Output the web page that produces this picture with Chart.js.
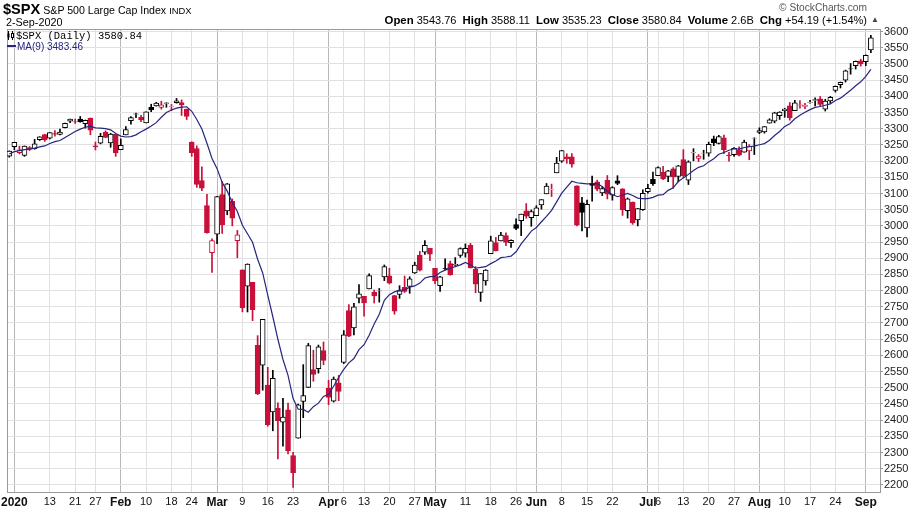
<!DOCTYPE html>
<html>
<head>
<meta charset="utf-8">
<script src="https://cdn.jsdelivr.net/npm/chart.js@4.4.1/dist/chart.umd.min.js"></script>
<style>
  body { margin: 0; background: #fff; font-family: Arial, "Liberation Sans", sans-serif; }
  #wrap { position: relative; width: 909px; height: 508px; overflow: hidden; }
  #c { position: absolute; left: 0; top: 0; }
  .txt { position: absolute; white-space: nowrap; color: #000; line-height: 1; }
  #sym { left: 3px; top: 2px; font-size: 10.6px; }
  #sym b { font-size: 14.6px; }
  #sym small { font-size: 9.4px; }
  #dt { left: 6px; top: 17px; font-size: 10.8px; }
  #quote { right: 42px; top: 15px; font-size: 11px; }
  #quote b { font-size: 11.4px; }
  #tri { left: 871px; top: 16px; font-size: 8px; color: #444; }
  #copy { right: 42px; top: 3px; font-size: 10.2px; color: #555; }
  #lg1 { left: 7px; top: 31px; font-family: "Liberation Mono", "DejaVu Sans Mono", monospace; font-size: 10.5px; }
  #lg1 svg { margin-right: 2px; }
  #lg2 { left: 7px; top: 42px; font-size: 10px; color: #26267f; }
  #lg2 i { display: inline-block; width: 9px; height: 2px; background: #26267f; vertical-align: 3px; margin-right: 1px; }
</style>
</head>
<body>
<div id="wrap">
  <canvas id="c" width="909" height="508"></canvas>
  <div class="txt" id="sym"><b>$SPX</b> S&amp;P 500 Large Cap Index <small>INDX</small></div>
  <div class="txt" id="dt">2-Sep-2020</div>
  <div class="txt" id="copy">© StockCharts.com</div>
  <div class="txt" id="quote"><b>Open</b> 3543.76 &nbsp;<b>High</b> 3588.11 &nbsp;<b>Low</b> 3535.23 &nbsp;<b>Close</b> 3580.84 &nbsp;<b>Volume</b> 2.6B &nbsp;<b>Chg</b> +54.19 (+1.54%)</div>
  <div class="txt" id="tri">▲</div>
  <div class="txt" id="lg1"><svg width="7" height="9" style="vertical-align:-1px"><path d="M1.5 0v9M5.5 0v9" stroke="#000" stroke-width="1"/><rect x="0.5" y="2.5" width="2" height="4" fill="#000"/><rect x="4.5" y="2.5" width="2" height="4" fill="#fff" stroke="#000"/></svg>$SPX (Daily) 3580.84</div>
  <div class="txt" id="lg2"><i></i>MA(9) 3483.46</div>
</div>
<script>
// daily OHLC, 31-Dec-2019 .. 2-Sep-2020 (one row of values per month)
const opens = [
  3215.18,
  3244.67, 3226.36, 3217.55, 3241.86, 3238.59, 3266.03, 3281.81, 3271.13, 3285.35, 3282.27, 3302.97, 3323.66, 3321.03, 3330.02, 3315.77, 3333.10, 3247.16, 3255.35, 3289.46, 3256.45, 3282.33,
  3235.66, 3280.61, 3324.91, 3344.92, 3335.54, 3318.28, 3365.87, 3370.50, 3365.90, 3378.08, 3369.04, 3380.39, 3380.45, 3360.50, 3257.61, 3238.94, 3139.90, 3062.54, 2916.90,
  2974.28, 3096.46, 3045.75, 3075.70, 2954.20, 2863.89, 2813.48, 2825.60, 2630.86, 2569.99, 2508.59, 2425.66, 2436.50, 2393.48, 2431.94, 2290.71, 2344.44, 2457.77, 2501.29, 2555.87, 2558.98, 2614.69,
  2498.08, 2458.54, 2514.92, 2578.28, 2738.65, 2685.00, 2776.99, 2782.46, 2805.10, 2795.64, 2799.34, 2842.43, 2845.62, 2784.81, 2787.89, 2810.42, 2812.64, 2854.65, 2909.96, 2918.46, 2930.91,
  2869.09, 2815.01, 2868.88, 2883.14, 2878.26, 2908.83, 2915.46, 2939.50, 2865.86, 2794.54, 2829.95, 2913.86, 2948.59, 2953.63, 2969.95, 2948.05, 3004.08, 3015.65, 3046.61, 3025.17,
  3031.48, 3064.78, 3098.90, 3111.56, 3163.84, 3199.92, 3213.32, 3213.42, 3123.53, 3071.04, 2993.76, 3131.00, 3136.13, 3101.64, 3140.29, 3094.42, 3138.70, 3114.40, 3046.60, 3073.20, 3018.59, 3050.20,
  3105.92, 3143.64, 3155.29, 3166.44, 3153.07, 3176.17, 3152.47, 3205.08, 3141.11, 3225.98, 3208.36, 3224.21, 3224.29, 3268.52, 3254.86, 3271.64, 3218.58, 3219.84, 3234.27, 3227.22, 3231.76, 3270.45,
  3288.26, 3289.92, 3317.37, 3323.17, 3340.05, 3356.04, 3370.34, 3355.46, 3372.95, 3368.66, 3380.86, 3387.04, 3392.51, 3360.48, 3386.01, 3418.09, 3435.95, 3449.97, 3485.14, 3494.69, 3509.73,
  3507.44, 3543.76
];
const highs = [
  3231.72,
  3258.14, 3246.15, 3246.84, 3244.91, 3267.07, 3275.58, 3282.99, 3288.13, 3294.25, 3298.66, 3317.11, 3329.88, 3329.79, 3337.77, 3326.88, 3333.18, 3258.85, 3285.78, 3293.47, 3285.91, 3282.33,
  3268.44, 3306.92, 3337.58, 3347.96, 3341.42, 3352.26, 3375.63, 3381.47, 3385.09, 3380.69, 3375.01, 3393.52, 3389.15, 3360.76, 3259.81, 3246.99, 3182.51, 3097.07, 2959.72,
  3090.96, 3136.72, 3130.97, 3083.04, 2985.93, 2863.89, 2882.59, 2825.60, 2660.95, 2711.33, 2562.98, 2553.93, 2453.57, 2466.97, 2453.01, 2300.73, 2449.71, 2571.42, 2637.01, 2615.91, 2631.80, 2641.39,
  2522.75, 2533.22, 2538.18, 2676.85, 2756.89, 2760.75, 2818.57, 2782.46, 2851.85, 2801.88, 2806.51, 2879.22, 2868.98, 2785.54, 2815.10, 2844.90, 2842.71, 2887.72, 2921.15, 2954.86, 2930.91,
  2869.09, 2844.24, 2898.23, 2891.11, 2901.92, 2932.16, 2944.25, 2945.82, 2874.14, 2852.80, 2865.01, 2968.09, 2964.21, 2980.29, 2978.50, 2956.76, 3021.72, 3036.25, 3068.67, 3049.17,
  3062.18, 3081.07, 3130.94, 3128.91, 3211.72, 3233.13, 3222.71, 3223.27, 3123.53, 3088.42, 3079.76, 3153.45, 3141.16, 3120.00, 3155.53, 3120.92, 3154.90, 3115.01, 3086.25, 3073.73, 3053.89, 3111.51,
  3128.44, 3165.81, 3182.59, 3184.15, 3171.80, 3179.78, 3186.82, 3235.32, 3200.95, 3238.28, 3220.39, 3233.52, 3258.61, 3277.29, 3279.32, 3279.99, 3227.26, 3241.43, 3243.72, 3264.74, 3250.92, 3272.17,
  3302.73, 3306.84, 3330.77, 3351.03, 3352.54, 3363.29, 3381.01, 3387.89, 3387.24, 3378.51, 3387.59, 3395.06, 3399.54, 3390.80, 3399.96, 3432.09, 3444.21, 3481.07, 3501.38, 3509.23, 3514.77,
  3528.03, 3588.11
];
const lows = [
  3212.03,
  3235.53, 3222.34, 3214.64, 3232.43, 3236.67, 3263.67, 3260.86, 3268.43, 3277.19, 3280.69, 3302.82, 3318.86, 3316.61, 3320.04, 3301.87, 3281.53, 3234.50, 3253.22, 3271.89, 3242.80, 3214.68,
  3235.66, 3280.61, 3313.75, 3334.39, 3322.12, 3317.77, 3352.72, 3369.72, 3360.52, 3366.15, 3355.61, 3378.83, 3341.02, 3328.45, 3214.65, 3118.77, 3108.99, 2977.39, 2855.84,
  2945.19, 2976.63, 3034.38, 2999.83, 2901.54, 2734.43, 2734.00, 2707.22, 2478.86, 2492.37, 2380.94, 2367.04, 2280.52, 2319.78, 2295.56, 2191.86, 2344.44, 2407.53, 2500.72, 2520.02, 2545.28, 2571.15,
  2447.49, 2455.79, 2459.96, 2574.57, 2657.67, 2663.30, 2762.36, 2721.17, 2805.10, 2761.54, 2764.32, 2830.88, 2820.43, 2727.10, 2775.95, 2794.26, 2791.76, 2852.89, 2860.71, 2912.16, 2892.47,
  2821.61, 2797.85, 2863.55, 2847.65, 2876.48, 2902.88, 2903.44, 2869.59, 2793.15, 2766.64, 2816.78, 2913.86, 2922.35, 2953.63, 2938.57, 2933.59, 2988.17, 2969.75, 3023.40, 2998.61,
  3031.48, 3051.64, 3098.90, 3090.41, 3163.84, 3196.00, 3193.11, 3181.49, 2999.49, 2984.47, 2965.66, 3076.06, 3108.03, 3093.51, 3083.11, 3079.39, 3127.12, 3032.13, 3024.01, 3004.63, 2999.74, 3047.83,
  3101.17, 3124.52, 3155.29, 3142.93, 3136.53, 3115.70, 3136.22, 3149.43, 3127.66, 3200.76, 3198.59, 3205.65, 3215.16, 3247.77, 3253.10, 3222.66, 3200.05, 3214.25, 3216.17, 3227.22, 3204.13, 3220.26,
  3284.53, 3286.37, 3317.37, 3318.14, 3328.72, 3335.44, 3326.44, 3355.46, 3363.35, 3361.64, 3379.22, 3370.15, 3369.66, 3354.69, 3379.31, 3413.13, 3425.84, 3444.15, 3468.35, 3484.32, 3493.25,
  3494.60, 3535.23
];
const closes = [
  3230.78,
  3257.85, 3234.85, 3246.28, 3237.18, 3253.05, 3274.70, 3265.35, 3288.13, 3283.15, 3289.29, 3316.81, 3329.62, 3320.79, 3321.75, 3325.54, 3295.47, 3243.63, 3276.24, 3273.40, 3283.66, 3225.52,
  3248.92, 3297.59, 3334.69, 3345.78, 3327.71, 3352.09, 3357.75, 3379.45, 3373.94, 3380.16, 3370.29, 3386.15, 3373.23, 3337.75, 3225.89, 3128.21, 3116.39, 2978.76, 2954.22,
  3090.23, 3003.37, 3130.12, 3023.94, 2972.37, 2746.56, 2882.23, 2741.38, 2480.64, 2711.02, 2386.13, 2529.19, 2398.10, 2409.39, 2304.92, 2237.40, 2447.33, 2475.56, 2630.07, 2541.47, 2626.65, 2584.59,
  2470.50, 2526.90, 2488.65, 2663.68, 2659.41, 2749.98, 2789.82, 2761.63, 2846.06, 2783.36, 2799.55, 2874.56, 2823.16, 2736.56, 2799.31, 2797.80, 2836.74, 2878.48, 2863.39, 2939.51, 2912.43,
  2830.71, 2842.74, 2868.44, 2848.42, 2881.19, 2929.80, 2930.32, 2870.12, 2820.00, 2852.50, 2863.70, 2953.91, 2922.94, 2971.61, 2948.51, 2955.45, 2991.77, 3036.13, 3029.73, 3044.31,
  3055.73, 3080.82, 3122.87, 3112.35, 3193.93, 3232.39, 3207.18, 3190.14, 3002.10, 3041.31, 3066.59, 3124.74, 3113.49, 3115.34, 3097.74, 3117.86, 3131.29, 3050.33, 3083.76, 3009.05, 3053.24, 3100.29,
  3115.86, 3130.01, 3179.72, 3145.32, 3169.94, 3152.05, 3185.04, 3155.22, 3197.52, 3226.56, 3215.57, 3224.73, 3251.84, 3257.30, 3276.02, 3235.66, 3215.63, 3239.41, 3218.44, 3258.44, 3246.22, 3271.12,
  3294.61, 3306.51, 3327.77, 3349.16, 3351.28, 3360.47, 3333.69, 3380.35, 3373.43, 3372.85, 3381.99, 3389.78, 3374.85, 3385.51, 3397.16, 3431.28, 3443.62, 3478.73, 3484.55, 3508.01, 3500.31,
  3526.65, 3580.84
];
// closes of the 8 sessions before 31-Dec (needed for the first MA(9) points)
const priorCloses = [3191.14, 3205.37, 3221.22, 3224.01, 3223.38, 3239.91, 3240.02, 3221.29];

// x axis: bar index of each labelled gridline and its text
const xTickIdx    = [1, 8, 13, 17, 22, 27, 32, 36, 41, 46, 51, 56, 63, 66, 70, 75, 80, 84, 90, 95, 100, 104, 109, 114, 119, 126, 128, 133, 138, 143, 148, 153, 158, 163, 169];
const xTickLabels = ['2020', '13', '21', '27', 'Feb', '10', '18', '24', 'Mar', '9', '16', '23', 'Apr', '6', '13', '20', '27', 'May', '11', '18', '26', 'Jun', '8', '15', '22', 'Jul', '6', '13', '20', '27', 'Aug', '10', '17', '24', 'Sep'];
const yTicks = [2200, 2250, 2300, 2350, 2400, 2450, 2500, 2550, 2600, 2650, 2700, 2750, 2800, 2850, 2900, 2950, 3000, 3050, 3100, 3150, 3200, 3250, 3300, 3350, 3400, 3450, 3500, 3550, 3600];

const RED = '#c8103a';
const BLUE = '#26267f';
const monthLabels = ['2020', 'Feb', 'Mar', 'Apr', 'May', 'Jun', 'Jul', 'Aug', 'Sep'];

// StockCharts style: hollow when close > open, red when close < previous close
const allCloses = priorCloses.concat(closes);
const candleColor = closes.map((c, i) => c >= allCloses[i + priorCloses.length - 1] ? '#000' : RED);
const bodyFill = closes.map((c, i) => c > opens[i] ? '#fff' : candleColor[i]);

// MA(9) of the closes
const ma9 = closes.map((c, i) => {
  const win = allCloses.slice(i, i + 9);
  return win.reduce((s, v) => s + v, 0) / 9;
});

const bodyData = closes.map((c, i) => ({ x: i, y: [opens[i], c] }));
const wickData = closes.map((c, i) => ({ x: i, y: [lows[i], highs[i]] }));
const maData = ma9.map((v, i) => ({ x: i, y: v }));

const framePlugin = {
  id: 'frame',
  beforeDatasetsDraw(chart) {
    const a = chart.chartArea, ctx = chart.ctx;
    ctx.save();
    ctx.strokeStyle = '#9a9a9a';
    ctx.lineWidth = 1;
    ctx.strokeRect(Math.round(a.left) + 0.5, Math.round(a.top) + 0.5, Math.round(a.right - a.left), Math.round(a.bottom - a.top));
    ctx.restore();
  }
};

new Chart(document.getElementById('c'), {
  type: 'bar',
  data: {
    datasets: [
      { type: 'line', data: maData, borderColor: BLUE, borderWidth: 1.2, pointRadius: 0, tension: 0, order: 0 },
      { data: bodyData, backgroundColor: bodyFill, borderColor: candleColor, borderWidth: 1, borderSkipped: false, barThickness: 5, grouped: false, order: 1 },
      { data: wickData, backgroundColor: candleColor, borderWidth: 0, barThickness: 1, grouped: false, order: 2 }
    ]
  },
  options: {
    responsive: false,
    animation: false,
    layout: { padding: { top: 29, left: 7, right: 0, bottom: 0 } },
    plugins: { legend: { display: false }, tooltip: { enabled: false } },
    scales: {
      x: {
        type: 'linear', min: -0.45, max: 171.8, offset: false,
        grid: {
          offset: false, drawTicks: false,
          color: c => (c.tick && monthLabels.includes(xTickLabels[xTickIdx.indexOf(c.tick.value)])) ? '#b8b8b8' : '#e0e0e0'
        },
        border: { display: false },
        afterBuildTicks: s => { s.ticks = xTickIdx.map(v => ({ value: v })); },
        afterFit: s => { s.height = 16; s.paddingLeft = 0; s.paddingRight = 0; },
        ticks: {
          autoSkip: false, maxRotation: 0, padding: 3, color: '#111',
          callback: (v, i) => xTickLabels[i],
          font: c => monthLabels.includes(xTickLabels[c.index]) ? { family: 'Arial, "Liberation Sans"', size: 12, weight: 'bold' } : { family: 'Arial, "Liberation Sans"', size: 11 }
        }
      },
      y: {
        position: 'right', min: 2178, max: 3608, beginAtZero: false,
        grid: { color: '#e0e0e0', tickLength: 3, tickColor: '#9a9a9a' },
        border: { display: false },
        afterBuildTicks: s => { s.ticks = yTicks.map(v => ({ value: v })); },
        afterFit: s => { s.width = 29; s.paddingTop = 0; s.paddingBottom = 0; },
        ticks: { padding: 1, color: '#222', font: { family: 'Arial, "Liberation Sans"', size: 11 }, callback: v => String(v) }
      }
    }
  },
  plugins: [framePlugin]
});
</script>
</body>
</html>
